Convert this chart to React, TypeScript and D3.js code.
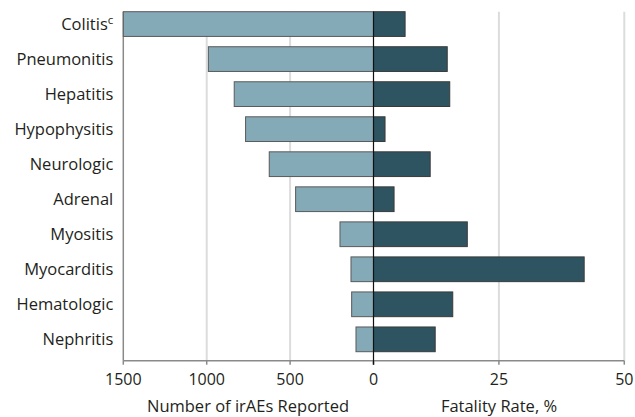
import React from "react";
import * as d3 from "d3";

const categories = ["Colitis", "Pneumonitis", "Hepatitis", "Hypophysitis", "Neurologic", "Adrenal", "Myositis", "Myocarditis", "Hematologic", "Nephritis"];
const irAECounts = [1500, 990, 835, 767, 625, 467, 201, 135, 131, 105];
const fatalityRates = [6.3, 14.7, 15.2, 2.3, 11.3, 4.1, 18.7, 42.0, 15.8, 12.3];
const leftTicks = [1500, 1000, 500, 0];
const rightTicks = [0, 25, 50];

const W = 635, H = 417;
const zeroX = 373.5;
const top = 11.7, axisY = 360.7;

export default function App() {
  const xL = d3.scaleLinear().domain([0, 1500]).range([zeroX, 123.3]);
  const xR = d3.scaleLinear().domain([0, 50]).range([zeroX, 624.3]);
  const y = d3.scaleBand<string>().domain(categories).range([6.55, 356.85]).paddingInner(0.294).paddingOuter(0.147);
  const font = "'Open Sans', sans-serif";
  const textColor = "#231f20";
  return (
    <svg width={W} height={H} style={{ position: "absolute", left: 0, top: 0 }} fontFamily={font}>
      {leftTicks.filter(t => t !== 0 && t !== 1500).map(t => (
        <line key={"gl" + t} x1={xL(t)} x2={xL(t)} y1={top} y2={axisY} stroke="#dcdcdc" strokeWidth={2} />
      ))}
      {rightTicks.filter(t => t !== 0).map(t => (
        <line key={"gr" + t} x1={xR(t)} x2={xR(t)} y1={top} y2={axisY} stroke="#dcdcdc" strokeWidth={2} />
      ))}
      <line x1={xL(1500)} x2={xL(1500)} y1={top} y2={axisY} stroke="#8a8a8a" strokeWidth={1.5} />
      {categories.map((c, i) => (
        <g key={c}>
          <rect x={xL(irAECounts[i])} y={y(c)} width={zeroX - xL(irAECounts[i])} height={y.bandwidth()} fill="#84a9b7" stroke="#5a5a5a" strokeWidth={1} />
          <rect x={zeroX} y={y(c)} width={xR(fatalityRates[i]) - zeroX} height={y.bandwidth()} fill="#2e5461" stroke="#3a3a3a" strokeWidth={1} />
        </g>
      ))}
      <line x1={xL(1500)} x2={xR(50)} y1={axisY} y2={axisY} stroke="#8a8a8a" strokeWidth={1.5} />
      {leftTicks.map(t => (
        <line key={"tl" + t} x1={xL(t)} x2={xL(t)} y1={axisY} y2={axisY + 4} stroke="#8a8a8a" strokeWidth={1.5} />
      ))}
      {rightTicks.map(t => (
        <line key={"tr" + t} x1={xR(t)} x2={xR(t)} y1={axisY} y2={axisY + 4} stroke="#8a8a8a" strokeWidth={1.5} />
      ))}
      <line x1={zeroX} x2={zeroX} y1={top} y2={axisY + 4} stroke="#111" strokeWidth={1.2} />
      {leftTicks.map(t => (
        <text key={"ll" + t} x={xL(t)} y={385} textAnchor="middle" fontSize={16} fill={textColor}>{t}</text>
      ))}
      {rightTicks.filter(t => t !== 0).map(t => (
        <text key={"rl" + t} x={xR(t)} y={385} textAnchor="middle" fontSize={16} fill={textColor}>{t}</text>
      ))}
      {categories.map((c, i) => (
        <text key={"c" + c} x={113.3} y={(y(c) ?? 0) + y.bandwidth() / 2} dy="0.35em" textAnchor="end" fontSize={16.5} fill={textColor}>
          {c}
          {i === 0 ? <tspan fontSize={11.5} dy="-0.5em">c</tspan> : null}
        </text>
      ))}
      <text x={248} y={411.5} textAnchor="middle" fontSize={16.5} fill={textColor}>Number of irAEs Reported</text>
      <text x={499} y={411.5} textAnchor="middle" fontSize={16.5} fill={textColor}>Fatality Rate, %</text>
    </svg>
  );
}
